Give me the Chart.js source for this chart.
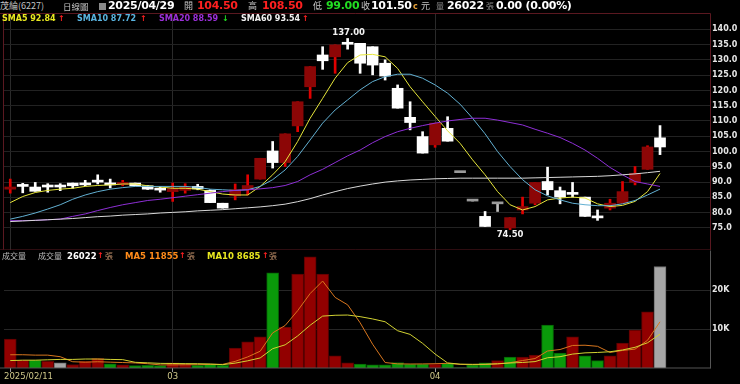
<!DOCTYPE html>
<html>
<head>
<meta charset="utf-8">
<script src="https://cdn.jsdelivr.net/npm/chart.js@4.4.1/dist/chart.umd.min.js"></script>
<style>
  html, body { margin:0; padding:0; background:#000; width:740px; height:384px; overflow:hidden; }
  #wrap { position:relative; width:740px; height:384px; font-family:"DejaVu Sans", Verdana, sans-serif; }
  #pc { position:absolute; left:0; top:13px; }
  #vc { position:absolute; left:0; top:250px; }
  .t { position:absolute; white-space:nowrap; line-height:12px; height:12px; z-index:2; }
  .b { font-weight:bold; }
  .n { font-weight:bold; font-size:11px; letter-spacing:-0.3px; }
  .cjk { font-family:"Noto Sans CJK TC", "DejaVu Sans", sans-serif; }
  .icon { position:absolute; left:99px; top:3px; width:7px; height:7px; background:#8a8a8a; z-index:2; }
</style>
</head>
<body>
<div id="wrap">
  <canvas id="pc" width="740" height="237"></canvas>
  <canvas id="vc" width="740" height="134"></canvas>

  <!-- header row -->
  <span class="t cjk" style="left:0;top:0;font-size:9px;color:#c4c4c4">茂綸(6227)</span>
  <span class="t cjk" style="left:63px;top:0;font-size:8.5px;color:#c4c4c4">日線圖</span>
  <div class="icon"></div>
  <span class="t n" id="hDate" style="left:108px;top:0;color:#fff"></span>
  <span class="t cjk" style="left:184px;top:0;font-size:9px;color:#c4c4c4">開</span>
  <span class="t n" id="hOpen" style="left:197px;top:0;color:#ff2020"></span>
  <span class="t cjk" style="left:248px;top:0;font-size:9px;color:#c4c4c4">高</span>
  <span class="t n" id="hHigh" style="left:262px;top:0;color:#ff2020"></span>
  <span class="t cjk" style="left:313px;top:0;font-size:9px;color:#c4c4c4">低</span>
  <span class="t n" id="hLow" style="left:326px;top:0;color:#22dd22"></span>
  <span class="t cjk" style="left:361px;top:0;font-size:9px;color:#c4c4c4">收</span>
  <span class="t n" id="hClose" style="left:371px;top:0;color:#fff"></span>
  <span class="t b" style="left:413px;top:1px;font-size:8px;color:#e8a33a">c</span>
  <span class="t cjk" style="left:421px;top:0;font-size:9px;color:#c4c4c4">元</span>
  <span class="t cjk" style="left:436px;top:0;font-size:8px;color:#8a8a8a">量</span>
  <span class="t n" id="hVol" style="left:447px;top:0;color:#fff"></span>
  <span class="t cjk" style="left:486px;top:0;font-size:8px;color:#8a8a8a">張</span>
  <span class="t n" style="left:496px;top:0;color:#fff">0.00 (0.00%)</span>

  <!-- MA legend -->
  <span class="t b" id="lSma5" style="left:2px;top:13px;font-size:8px;color:#e8e820"></span>
  <span class="t b" style="left:58px;top:13px;font-size:8px;color:#ff2020">↑</span>
  <span class="t b" id="lSma10" style="left:77px;top:13px;font-size:8px;color:#5ab4e0"></span>
  <span class="t b" style="left:140px;top:13px;font-size:8px;color:#ff2020">↑</span>
  <span class="t b" id="lSma20" style="left:159px;top:13px;font-size:8px;color:#9b30d9"></span>
  <span class="t b" style="left:222px;top:13px;font-size:8px;color:#22dd22">↓</span>
  <span class="t b" id="lSma60" style="left:241px;top:13px;font-size:8px;color:#f0f0f0"></span>
  <span class="t b" style="left:302px;top:13px;font-size:8px;color:#ff2020">↑</span>

  <!-- volume legend -->
  <span class="t cjk" style="left:2px;top:250px;font-size:8px;color:#bbbbbb">成交量</span>
  <span class="t cjk" style="left:38px;top:250px;font-size:8px;color:#bbbbbb">成交量</span>
  <span class="t b" id="lVol" style="left:67px;top:250px;font-size:8.5px;color:#fff"></span>
  <span class="t b" style="left:97px;top:250px;font-size:8px;color:#ff2020">↑</span>
  <span class="t cjk" style="left:105px;top:250px;font-size:8px;color:#c0906a">張</span>
  <span class="t b" id="lVma5" style="left:125px;top:250px;font-size:8.5px;color:#ff8c1a"></span>
  <span class="t b" style="left:179px;top:250px;font-size:8px;color:#ff2020">↑</span>
  <span class="t cjk" style="left:187px;top:250px;font-size:8px;color:#c0906a">張</span>
  <span class="t b" id="lVma10" style="left:207px;top:250px;font-size:8.5px;color:#e8e820"></span>
  <span class="t b" style="left:262px;top:250px;font-size:8px;color:#ff2020">↑</span>
  <span class="t cjk" style="left:269px;top:250px;font-size:8px;color:#c0906a">張</span>
</div>

<script>
// ---- data (daily, 2025/02/11 .. 2025/04/29) ----
const lastDate = '2025/04/29';
const tickIdx    = [0, 13, 34];
const tickLabels = ['2025/02/11', '03', '04'];

const open  = [87.7, 88.9, 88.4, 88.8, 88.8, 89.7, 89.3, 90.6, 89.7, 89.2, 89.7, 88.8, 87.9, 86.9, 87.3, 88.6, 87.3, 83.1,
               85.5, 87.5, 91.0, 100.2, 96.4, 108.4, 121.2, 131.6, 131.0, 135.4, 135.4, 134.3, 128.9, 120.7, 111.2, 104.9,
               102.2, 107.6, 93.1, 83.8, 78.8, 82.9, 75.0, 80.9, 83.1, 90.2, 87.2, 86.4, 85.1, 78.5, 81.5, 83.1, 89.9, 94.2, 104.5];
const high  = [91.0, 89.6, 89.9, 89.5, 89.5, 89.7, 90.6, 92.4, 91.0, 90.6, 89.7, 88.9, 88.5, 89.7, 89.5, 89.3, 87.5, 83.1,
               89.4, 92.4, 97.8, 103.3, 105.8, 116.3, 127.8, 134.3, 134.9, 137.0, 135.4, 134.3, 130.0, 121.8, 116.3, 106.5,
               109.3, 111.4, 93.1, 83.8, 80.4, 82.9, 78.4, 85.1, 89.9, 94.9, 88.4, 89.9, 85.1, 80.9, 84.4, 90.2, 95.1, 101.9, 108.5];
const low   = [86.4, 86.5, 87.0, 86.7, 87.2, 88.0, 88.8, 89.4, 88.1, 88.8, 88.8, 87.6, 86.7, 83.7, 86.4, 87.5, 83.3, 81.5,
               84.2, 85.8, 91.0, 94.6, 95.1, 106.5, 117.4, 126.9, 125.6, 133.5, 125.6, 125.1, 123.4, 114.2, 107.1, 99.5,
               101.4, 103.4, 93.1, 83.8, 75.5, 80.4, 74.5, 79.6, 82.6, 85.8, 82.9, 85.1, 78.8, 77.5, 80.9, 83.1, 89.1, 94.2, 99.0];
const close = [88.4, 88.6, 87.0, 88.4, 88.4, 88.8, 89.1, 90.0, 89.1, 89.9, 88.8, 87.7, 87.4, 87.9, 88.4, 87.8, 83.3, 81.5,
               87.5, 88.9, 97.8, 96.4, 105.8, 116.3, 127.8, 129.7, 134.9, 135.1, 128.9, 128.3, 124.7, 114.2, 109.5, 99.5,
               109.3, 103.4, 93.1, 83.8, 75.5, 82.9, 78.4, 82.0, 89.9, 87.5, 85.1, 86.0, 78.8, 78.3, 83.1, 86.9, 92.9, 101.5, 101.5];

const sma5  = [83.3, 85.3, 86.6, 87.3, 87.7, 88.0, 88.6, 88.9, 89.1, 89.4, 89.4, 88.8, 88.4, 88.0, 88.0, 87.7, 86.9, 86.1,
               85.8, 85.8, 88.6, 92.4, 96.7, 103.3, 110.9, 117.4, 124.0, 129.1, 131.6, 131.8, 131.0, 127.2, 121.2, 116.3,
               111.5, 106.8, 102.7, 97.3, 92.4, 86.9, 82.6, 80.9, 82.0, 84.2, 84.8, 85.1, 84.8, 82.9, 82.0, 82.4, 83.7, 86.9, 92.84];
const sma10 = [77.9, 78.8, 79.9, 81.2, 82.6, 84.4, 85.8, 86.9, 87.7, 88.2, 88.6, 88.6, 88.6, 88.6, 88.6, 88.3, 87.7, 87.5,
               87.3, 87.5, 88.6, 90.8, 94.0, 98.4, 103.8, 109.3, 113.6, 116.9, 120.2, 122.9, 124.5, 125.3, 125.3, 124.0,
               121.8, 119.1, 115.5, 110.9, 105.8, 100.0, 95.1, 90.8, 87.5, 85.5, 84.2, 83.1, 82.6, 82.3, 82.3, 82.9, 84.0, 85.8, 87.72];
const sma20 = [77.4, 77.4, 77.5, 77.7, 77.9, 78.8, 79.6, 80.7, 81.7, 82.6, 83.3, 84.0, 84.4, 84.9, 85.4, 85.9, 86.4, 86.9,
               87.3, 87.5, 87.8, 88.2, 88.9, 90.2, 92.4, 94.2, 96.4, 98.6, 100.5, 102.9, 104.9, 106.5, 107.6, 108.5,
               109.3, 110.0, 110.5, 110.9, 110.9, 110.3, 109.5, 108.7, 107.3, 106.0, 104.6, 102.7, 100.5, 97.8, 94.8, 92.4, 90.2, 89.4, 88.59];
const sma60 = [77.1, 77.3, 77.5, 77.7, 77.9, 78.1, 78.4, 78.7, 78.9, 79.2, 79.4, 79.6, 79.9, 80.1, 80.3, 80.6, 80.8, 81.0,
               81.3, 81.6, 81.9, 82.3, 82.8, 83.6, 84.6, 85.8, 86.9, 87.9, 88.7, 89.4, 90.0, 90.4, 90.7, 90.9,
               91.1, 91.2, 91.3, 91.3, 91.3, 91.3, 91.3, 91.3, 91.4, 91.5, 91.6, 91.7, 91.8, 91.9, 92.1, 92.4, 92.7, 93.1, 93.54];

// volume in 張
const volume = [7400, 2000, 2000, 1700, 1300, 900, 1700, 2500, 1100, 800, 600, 700, 600, 1300, 1000, 700, 1000, 700,
                5100, 6700, 8000, 24400, 10500, 24100, 28500, 24100, 3100, 1300, 1000, 800, 800, 1400, 1000, 1000,
                1000, 1200, 30, 800, 1300, 1900, 2800, 2800, 3300, 11000, 3800, 8000, 3100, 1900, 3100, 6400, 9700, 14400, 26022];
const volMa5  = [3400, 3400, 3300, 3300, 2900, 1600, 1500, 1600, 1500, 1400, 1300, 1100, 800, 800, 840, 860, 920, 940,
                 1700, 2840, 4300, 9000, 10900, 14700, 19100, 22300, 18100, 16200, 11600, 6100, 1400, 1060, 1020, 1040,
                 1100, 1200, 920, 860, 900, 1060, 1360, 1920, 2420, 4360, 4740, 5780, 5840, 5560, 3980, 4500, 4840, 7100, 11855];
const volMa10 = [1900, 2000, 2000, 2100, 2200, 2200, 2300, 2300, 2200, 2140, 1460, 1330, 1190, 1150, 1120, 1100, 1030, 850,
                 1250, 1840, 2580, 4950, 5940, 8220, 10970, 13310, 13520, 13580, 13170, 12580, 11860, 9560, 8620, 6320,
                 3580, 1300, 990, 940, 970, 1080, 1280, 1420, 1640, 2630, 2900, 3570, 3880, 3990, 4170, 4620, 5310, 6470, 8685];

const priceTicks = [75, 80, 85, 90, 95, 100, 105, 110, 115, 120, 125, 130, 135, 140];
const volTicks   = [10000, 20000];

// ---- helpers ----
const idx = open.map((_, i) => i);
const pts = arr => arr.map((v, i) => ({ x: i, y: v }));
const last = open.length - 1;
const FONT = '"DejaVu Sans", Verdana, sans-serif';

document.getElementById('hDate').textContent  = lastDate;
document.getElementById('hOpen').textContent  = open[last].toFixed(2);
document.getElementById('hHigh').textContent  = high[last].toFixed(2);
document.getElementById('hLow').textContent   = low[last].toFixed(2);
document.getElementById('hClose').textContent = close[last].toFixed(2);
document.getElementById('hVol').textContent   = volume[last];
document.getElementById('lSma5').textContent  = 'SMA5 ' + sma5[last].toFixed(2);
document.getElementById('lSma10').textContent = 'SMA10 ' + sma10[last].toFixed(2);
document.getElementById('lSma20').textContent = 'SMA20 ' + sma20[last].toFixed(2);
document.getElementById('lSma60').textContent = 'SMA60 ' + sma60[last].toFixed(2);
document.getElementById('lVol').textContent   = volume[last];
document.getElementById('lVma5').textContent  = 'MA5 ' + volMa5[last];
document.getElementById('lVma10').textContent = 'MA10 ' + volMa10[last];

// candle colours: red = close above open, white = below, grey = flat
const bodyColors = idx.map(i => close[i] > open[i] ? '#8c0606' : close[i] < open[i] ? '#ffffff' : '#9a9a9a');
const wickColors = idx.map(i => close[i] > open[i] ? '#e00000' : close[i] < open[i] ? '#ffffff' : '#bdbdbd');
// volume colours: vs previous close
const volColors  = idx.map(i => {
  if (i === 0) return '#920000';
  return close[i] > close[i-1] ? '#920000' : close[i] < close[i-1] ? '#0a9a0a' : '#a6a6a6';
});
const volBorders = volColors.map(c => c === '#920000' ? '#5a0000' : c === '#0a9a0a' ? '#066006' : '#707070');

// ---- plugins ----
const frame = {
  id: 'frame',
  afterDraw(chart, args, o) {
    const { ctx, chartArea: a } = chart;
    ctx.save();
    ctx.lineWidth = 1;
    const L = Math.round(a.left) - 0.5, R = Math.round(a.right) + 0.5;
    const T = Math.round(a.top) + 0.5, B = Math.round(a.bottom) - 0.5;
    const seg = (c, x1, y1, x2, y2) => { if (!c) return; ctx.strokeStyle = c; ctx.beginPath(); ctx.moveTo(x1, y1); ctx.lineTo(x2, y2); ctx.stroke(); };
    seg(o.top, 0, T, R, T);
    seg(o.left, L, T, L, B);
    seg(o.right, R, T, R, B + 1);
    seg(o.bottom, 0, B + 0.5, R, B + 0.5);
    ctx.restore();
  }
};

const hiLo = {
  id: 'hiLo',
  afterDatasetsDraw(chart) {
    const { ctx, scales: { x, y } } = chart;
    const hi = high.indexOf(Math.max(...high));
    const lo = low.indexOf(Math.min(...low));
    ctx.save();
    ctx.font = 'bold 8.5px ' + FONT;
    ctx.fillStyle = '#f2f2f2';
    ctx.textAlign = 'center';
    ctx.textBaseline = 'bottom';
    ctx.fillText(high[hi].toFixed(2), x.getPixelForValue(hi) + 1, y.getPixelForValue(high[hi]) - 1);
    ctx.textBaseline = 'top';
    ctx.fillText(low[lo].toFixed(2), x.getPixelForValue(lo), y.getPixelForValue(low[lo]) + 1);
    ctx.restore();
  }
};

const dateLabels = {
  id: 'dateLabels',
  afterDraw(chart) {
    const { ctx, scales: { x }, chartArea: a } = chart;
    ctx.save();
    ctx.font = '8.5px ' + FONT;
    ctx.fillStyle = '#cfc88a';
    ctx.textBaseline = 'middle';
    tickIdx.forEach((v, k) => {
      const w = ctx.measureText(tickLabels[k]).width;
      const px = Math.max(a.left, x.getPixelForValue(v) - w / 2);
      ctx.fillText(tickLabels[k], px, a.bottom + 9);
    });
    ctx.restore();
  }
};

const xScale = (extra) => Object.assign({
  type: 'linear', min: -0.5, max: 56, offset: false,
  afterBuildTicks: s => { s.ticks = tickIdx.map(v => ({ value: v })); },
  ticks: { display: false },
  border: { display: false },
}, extra);

const rightAxis = (extra) => Object.assign({
  position: 'right',
  border: { display: false },
  afterFit: s => { s.width = 30; s.paddingTop = 0; s.paddingBottom = 0; },
}, extra);

const line = (data, color, order) => ({
  type: 'line', data: pts(data), borderColor: color, borderWidth: 1,
  pointRadius: 0, tension: 0, order
});

// ---- price chart ----
new Chart(document.getElementById('pc'), {
  type: 'bar',
  data: {
    datasets: [
      line(sma60, '#d8d8d8', 0),
      line(sma20, '#8e2fd6', 0),
      line(sma10, '#62b0d2', 0),
      line(sma5,  '#e6e63a', 0),
      { label: 'body', data: idx.map(i => ({ x: i, y: [open[i], close[i]] })),
        backgroundColor: bodyColors, borderWidth: 0, barThickness: 11, minBarLength: 2, grouped: false, order: 1 },
      { label: 'wick', data: idx.map(i => ({ x: i, y: [low[i], high[i]] })),
        backgroundColor: wickColors, borderWidth: 0, barThickness: 2, minBarLength: 1, grouped: false, order: 2 },
    ]
  },
  options: {
    responsive: false, animation: false,
    layout: { padding: { left: 4, right: 0, top: 0, bottom: 0 } },
    plugins: { legend: { display: false }, tooltip: { enabled: false },
               frame: { top: '#5a1820', left: '#5a1820', right: '#5a1820', bottom: '#5a1820' } },
    scales: {
      x: xScale({ grid: { color: '#2a2a2a', drawTicks: false, offset: false },
                  afterFit: s => { s.height = 0; } }),
      y: rightAxis({
        min: 67.8, max: 145.33,
        afterBuildTicks: s => { s.ticks = priceTicks.map(v => ({ value: v })); },
        grid: { color: '#222222', drawTicks: false },
        ticks: { color: '#e6e6e6', padding: 2, font: { size: 8, weight: 'bold', family: FONT },
                 callback: v => Number(v).toFixed(1) },
      }),
    }
  },
  plugins: [frame, hiLo]
});

// ---- volume chart ----
new Chart(document.getElementById('vc'), {
  type: 'bar',
  data: {
    datasets: [
      line(volMa10, '#d2d232', 0),
      line(volMa5,  '#d8761e', 0),
      { label: 'vol', data: pts(volume), backgroundColor: volColors, borderColor: volBorders,
        borderWidth: 1, barThickness: 12, grouped: false, order: 1 },
    ]
  },
  options: {
    responsive: false, animation: false,
    layout: { padding: { left: 4, right: 0, top: 0, bottom: 0 } },
    plugins: { legend: { display: false }, tooltip: { enabled: false },
               frame: { right: '#555555', bottom: '#555555' } },
    scales: {
      x: xScale({
        grid: { offset: false, drawTicks: true, tickLength: 4,
                color: c => (c.tick && c.tick.value === 0) ? 'rgba(0,0,0,0)' : '#2a2a2a',
                tickColor: '#9a9a9a' },
        afterFit: s => { s.height = 16; }
      }),
      y: rightAxis({
        min: 0, max: 30260,
        afterBuildTicks: s => { s.ticks = volTicks.map(v => ({ value: v })); },
        grid: { color: '#262626', drawTicks: false },
        ticks: { color: '#e6e6e6', padding: 2, font: { size: 8, weight: 'bold', family: FONT },
                 callback: v => (v / 1000) + 'K' },
      }),
    }
  },
  plugins: [frame, dateLabels]
});
</script>
</body>
</html>
